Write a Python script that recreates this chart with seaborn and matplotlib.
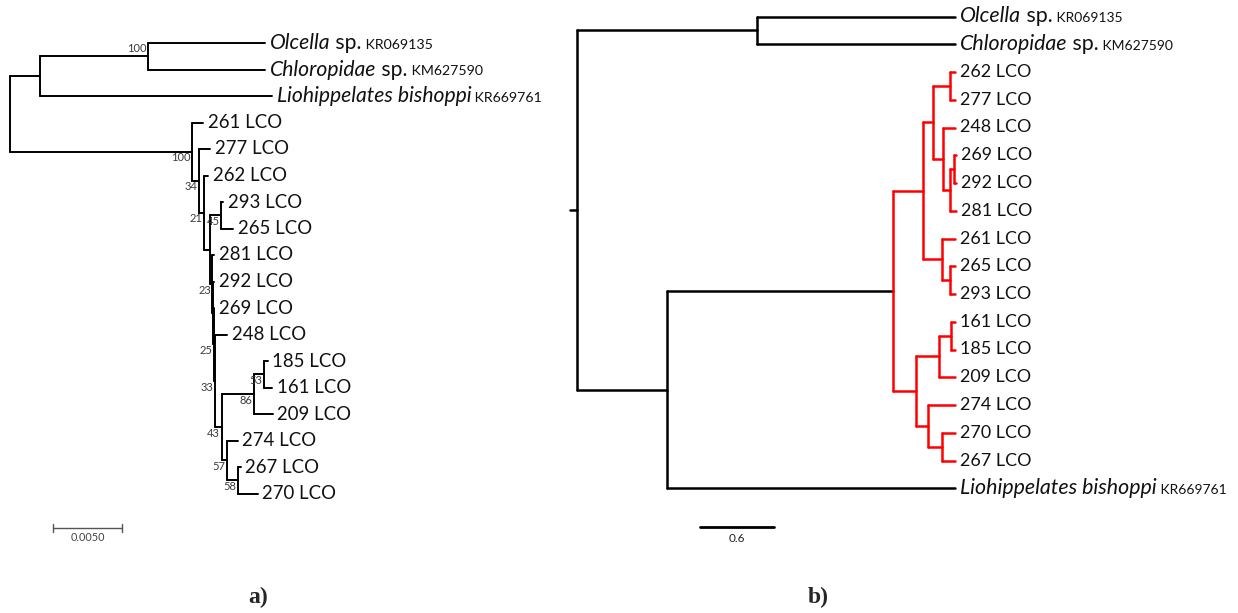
import matplotlib
matplotlib.use("Agg")
import matplotlib.pyplot as plt
import numpy as np
import pandas as pd
import seaborn as sns

# ------------------------------------------------------------------ data
# Panel a) : ML tree with bootstrap support (branch lengths in substitutions/site)
a_nodes = ["root", "OUT", "OC", "Olcella", "Chloropidae", "Liohippelates bishoppi",
           "IN", "261", "X1", "277", "X2", "262", "X3", "N45", "293", "265",
           "A", "281", "B", "292", "C", "269", "N33", "248", "N43", "N86", "N53",
           "185", "161", "209", "N57", "274", "N58", "267", "270"]
a_parents = [None, "root", "OUT", "OC", "OC", "OUT",
             "root", "IN", "IN", "X1", "X1", "X2", "X2", "X3", "N45", "N45",
             "X3", "A", "A", "B", "B", "C", "C", "N33", "N33", "N43", "N86",
             "N53", "N53", "N86", "N43", "N57", "N57", "N58", "N58"]
a_lengths = [0.0, 0.00217, 0.00783, 0.00848, 0.00848, 0.01681,
             0.01319, 0.00080, 0.00051, 0.00080, 0.00036, 0.00029, 0.00043, 0.00080, 0.00014, 0.00087,
             0.00018, 0.00011, 0.00004, 0.00007, 0.00004, 0.00004, 0.00007, 0.00094, 0.00051, 0.00232, 0.00072,
             0.00029, 0.00065, 0.00138, 0.00036, 0.00080, 0.00080, 0.00022, 0.00145]
a_support = [None, None, 100, None, None, None,
             100, None, 34, None, 21, None, None, 45, None, None,
             23, None, None, None, 25, None, 33, None, 43, 86, 53,
             None, None, None, 57, None, 58, None, None]
a_scale_value = 0.0050

# Panel b) : tree with highlighted LCO clade (branch lengths in tree units)
b_nodes = ["root", "OC", "Olcella", "Chloropidae", "LOW", "IN", "UP", "U1", "U2",
           "262", "277", "U3", "248", "U4", "U5", "269", "292", "281", "U6", "261",
           "U7", "265", "293", "LG", "L1", "L2", "161", "185", "209", "L3", "274",
           "L4", "270", "267", "Liohippelates bishoppi"]
b_parents = [None, "root", "OC", "OC", "root", "LOW", "IN", "UP", "U1",
             "U2", "U2", "U1", "U3", "U3", "U4", "U5", "U5", "U4", "UP", "U6",
             "U6", "U7", "U7", "IN", "LG", "L1", "L2", "L2", "L1", "LG", "L3",
             "L3", "L4", "L4", "LOW"]
b_lengths = [0.057, 1.46, 1.606, 1.606, 0.73, 1.833, 0.243, 0.081, 0.138,
             0.041, 0.041, 0.081, 0.097, 0.057, 0.032, 0.016, 0.016, 0.049, 0.154, 0.105,
             0.065, 0.041, 0.041, 0.187, 0.187, 0.097, 0.032, 0.032, 0.130, 0.097, 0.219,
             0.114, 0.105, 0.105, 2.336]
b_highlight = "IN"
b_scale_value = 0.6

# outgroup label parts
out_taxon = ["Olcella", "Chloropidae", "Liohippelates bishoppi"]
out_rank = ["sp.", "sp.", ""]
out_accession = ["KR069135", "KM627590", "KR669761"]
panel_letters = ["a)", "b)"]

# ------------------------------------------------------------------ style
sns.set_theme(style="white")
plt.rcParams['font.family'] = ['Lato', 'DejaVu Sans']

W, H = 1238, 613
fig = plt.figure(figsize=(W / 100, H / 100), dpi=100)
fig.patch.set_facecolor("white")

SPLIT = 557
ax_a = fig.add_axes([0, 0, SPLIT / W, 1])
ax_b = fig.add_axes([SPLIT / W, 0, 1 - SPLIT / W, 1])


def build(nodes, parents, lengths, highlight=None):
    children = {n: [] for n in nodes}
    for n, p in zip(nodes, parents):
        if p is not None:
            children[p].append(n)
    x, y = {}, {}
    for n, p, l in zip(nodes, parents, lengths):
        x[n] = 0.0 if p is None else x[p] + l
    leaves = [n for n in nodes if not children[n]]
    for i, n in enumerate(leaves):
        y[n] = float(i)
    for n in reversed(nodes):
        if children[n]:
            y[n] = (y[children[n][0]] + y[children[n][-1]]) / 2
    hl = set()
    if highlight:
        stack = [highlight]
        while stack:
            m = stack.pop()
            hl.add(m)
            stack.extend(children[m])
    rows, seg = [], 0
    for n, p, l in zip(nodes, parents, lengths):
        x0 = x[p] if p is not None else -l
        if x0 != x[n]:
            col = 'red' if p in hl else 'black'
            rows += [(seg, x0, y[n], col), (seg, x[n], y[n], col)]
            seg += 1
        if children[n]:
            c = children[n]
            col = 'red' if n in hl else 'black'
            rows += [(seg, x[n], y[c[0]], col), (seg, x[n], y[c[-1]], col)]
            seg += 1
    df = pd.DataFrame(rows, columns=['seg', 'x', 'y', 'col'])
    return df, x, y, leaves, children


def leaf_label(ax, name, x, y, fs_main, fs_out, fs_acc):
    if name in out_taxon:
        k = out_taxon.index(name)
        t = ax.annotate(name, xy=(x, y), xytext=(3.5, 0), textcoords='offset points',
                        ha='left', va='center', fontsize=fs_out, style='italic', color='#111111')
        if out_rank[k]:
            t = ax.annotate(" " + out_rank[k], xy=(1, 0), xycoords=t, ha='left', va='bottom',
                            fontsize=fs_out, color='#111111')
        ax.annotate(" " + out_accession[k], xy=(1, 0), xycoords=t, xytext=(0, 1.6),
                    textcoords='offset points', ha='left', va='bottom',
                    fontsize=fs_acc, color='#111111')
    else:
        ax.annotate(f"{name} LCO", xy=(x, y), xytext=(3.5, 0), textcoords='offset points',
                    ha='left', va='center', fontsize=fs_main, color='#111111')


# ------------------------------------------------------------------ panel a
df_a, xa, ya, leaves_a, ch_a = build(a_nodes, a_parents, a_lengths)
sns.lineplot(data=df_a, x='x', y='y', units='seg', estimator=None, hue='col',
             palette={'black': 'black', 'red': 'red'}, sort=False, legend=False,
             linewidth=1.4, ax=ax_a)
# mapping of data to pixels (layout)
a_px0, a_pxu, a_py0, a_pyu = 10, 13800, 43, 26.5
ax_a.set_xlim(-a_px0 / a_pxu, (SPLIT - a_px0) / a_pxu)
ax_a.set_ylim((H - a_py0) / a_pyu, -a_py0 / a_pyu)
for n in leaves_a:
    leaf_label(ax_a, n, xa[n], ya[n], 13.4, 15.2, 10.2)
for n, s in zip(a_nodes, a_support):
    if s is None:
        continue
    if n == "OC":
        ax_a.annotate(str(s), xy=(xa[n], ya[n]), xytext=(-1.0, 1.5), textcoords='offset points',
                      ha='right', va='bottom', fontsize=8, color='#3a3a3a')
    else:
        ax_a.annotate(str(s), xy=(xa[n], ya[n]), xytext=(-1.0, -0.5), textcoords='offset points',
                      ha='right', va='top', fontsize=8, color='#3a3a3a')
# scale bar
sb_x0 = (53 - a_px0) / a_pxu
sb_y = (528 - a_py0) / a_pyu
ax_a.plot([sb_x0, sb_x0 + a_scale_value], [sb_y, sb_y], color='#555555', lw=1.0)
for xx in (sb_x0, sb_x0 + a_scale_value):
    ax_a.plot([xx, xx], [sb_y - 0.15, sb_y + 0.15], color='#555555', lw=1.0)
ax_a.annotate(f"{a_scale_value:.4f}", xy=(sb_x0 + a_scale_value / 2, sb_y), xytext=(0, -3),
              textcoords='offset points', ha='center', va='top', fontsize=7.8, color='#444444')

# ------------------------------------------------------------------ panel b
df_b, xb, yb, leaves_b, ch_b = build(b_nodes, b_parents, b_lengths, b_highlight)
sns.lineplot(data=df_b, x='x', y='y', units='seg', estimator=None, hue='col',
             palette={'black': 'black', 'red': '#ff0000'}, sort=False, legend=False,
             linewidth=1.8, ax=ax_b)
b_px0, b_pxu, b_py0, b_pyu = 577 - SPLIT, 123.3, 16.5, 27.75
ax_b.set_xlim(-b_px0 / b_pxu, (W - SPLIT - b_px0) / b_pxu)
ax_b.set_ylim((H - b_py0) / b_pyu, -b_py0 / b_pyu)
for n in leaves_b:
    leaf_label(ax_b, n, xb[n], yb[n], 12.9, 15.4, 10.0)
sbb_x0 = (700 - SPLIT - b_px0) / b_pxu
sbb_y = (527 - b_py0) / b_pyu
ax_b.plot([sbb_x0, sbb_x0 + b_scale_value], [sbb_y, sbb_y], color='black', lw=2.0)
ax_b.annotate(f"{b_scale_value}", xy=(sbb_x0 + b_scale_value / 2, sbb_y), xytext=(0, -4),
              textcoords='offset points', ha='center', va='top', fontsize=8.5, color='#222222')

for ax in (ax_a, ax_b):
    ax.set_axis_off()

# panel letters
for lab, px in zip(panel_letters, (258, 818)):
    fig.text(px / W, 1 - 597 / H, lab, ha='center', va='center',
             family=['Liberation Serif', 'DejaVu Serif'], weight='bold', fontsize=17)

fig.savefig("out.png", dpi=100, facecolor='white')
